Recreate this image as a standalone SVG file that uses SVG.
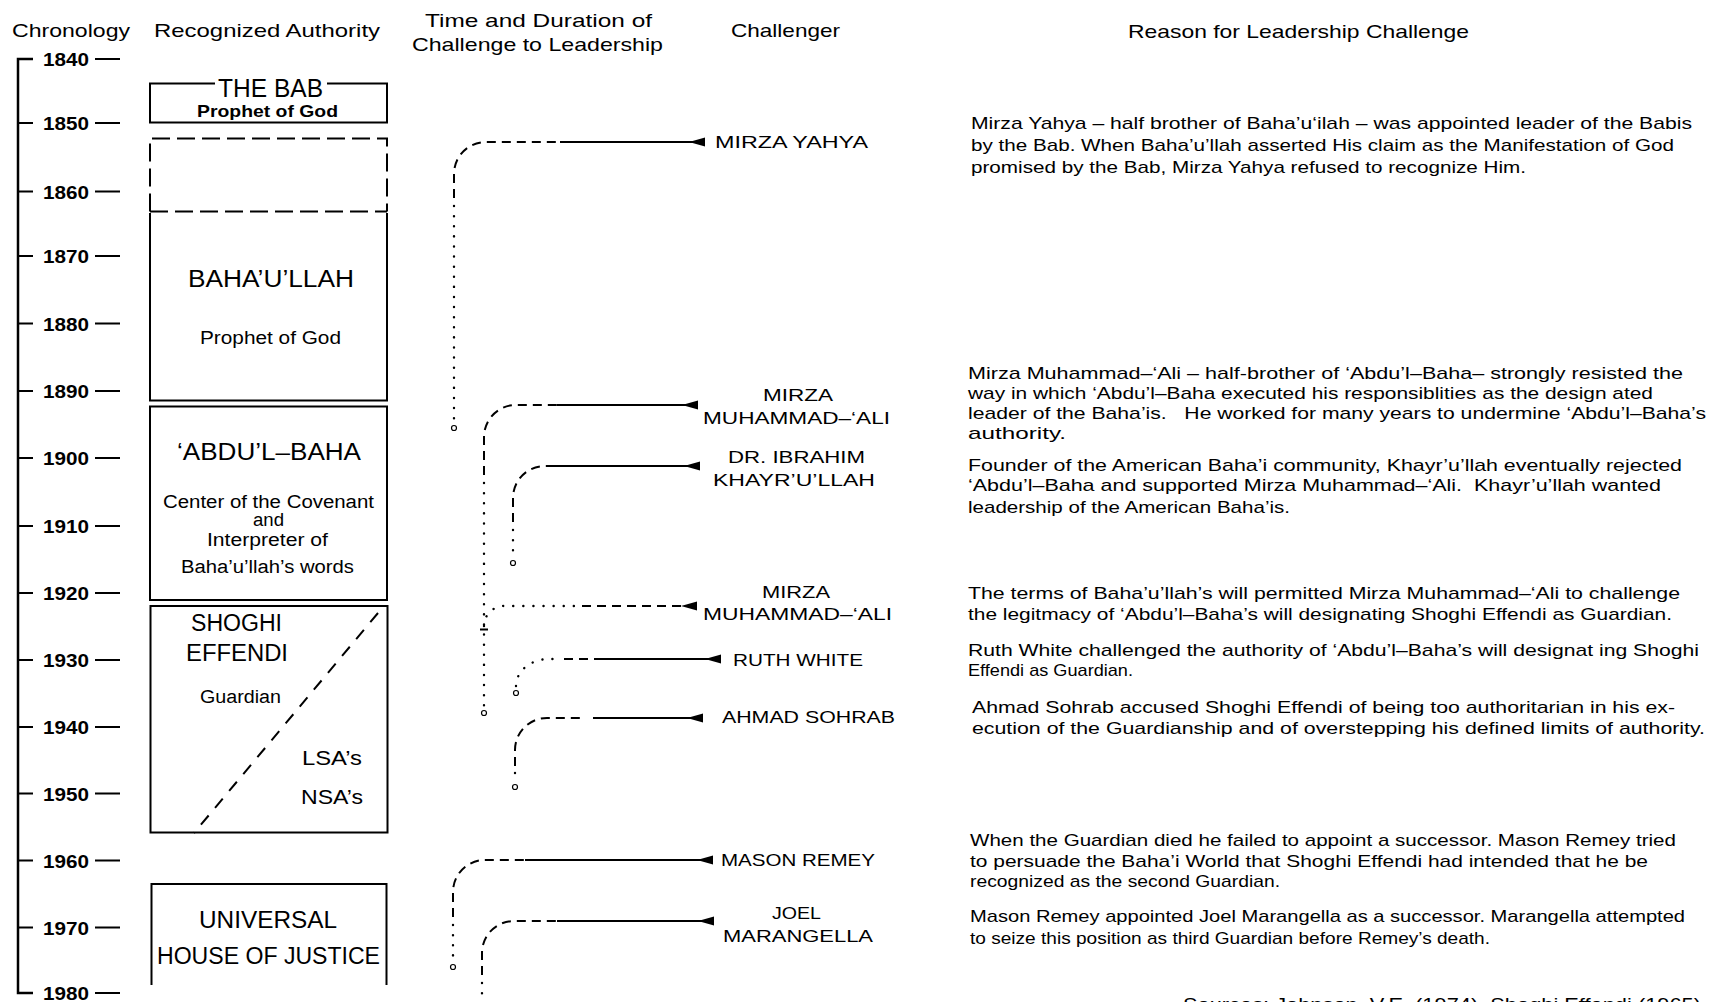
<svg xmlns="http://www.w3.org/2000/svg" width="1710" height="1002" viewBox="0 0 1710 1002">
<defs>
<style>
text { font-family: "Liberation Sans", Arial, Helvetica, sans-serif; fill: #000; }
.hd { font-size: 19px; }
.yr { font-size: 19px; font-weight: bold; }
.big { font-size: 23px; }
.mid { font-size: 18px; }
.lab { font-size: 17px; }
.par { font-size: 17px; }
.box { fill: none; stroke: #000; stroke-width: 2; }
.dbox { fill: none; stroke: #000; stroke-width: 2; stroke-dasharray: 18 7; }
.axis { fill: none; stroke: #000; stroke-width: 2.5; }
.tick { fill: none; stroke: #000; stroke-width: 2; }
.dash { fill: none; stroke: #000; stroke-width: 2; stroke-dasharray: 9 6; }
.dot { fill: none; stroke: #000; stroke-width: 2.4; stroke-dasharray: 0.1 10; stroke-linecap: round; }
.solid { fill: none; stroke: #000; stroke-width: 2.2; }
.end { fill: #fff; stroke: #000; stroke-width: 1.2; }
.diag { fill: none; stroke: #000; stroke-width: 2; stroke-dasharray: 12 10; }
</style>
<marker id="wedge" markerUnits="userSpaceOnUse" viewBox="0 0 16 10" markerWidth="16" markerHeight="10" refX="16" refY="5" orient="auto">
<path d="M0,5 L16,0.5 L16,9.5 Z" fill="#000"/>
</marker>
</defs>
<rect width="1710" height="1002" fill="#fff"/>

<g id="headers">
<text class="hd" x="12" y="36.5" textLength="118" lengthAdjust="spacingAndGlyphs">Chronology</text>
<text class="hd" x="154" y="36.5" textLength="226" lengthAdjust="spacingAndGlyphs">Recognized Authority</text>
<text class="hd" x="425" y="27" textLength="227" lengthAdjust="spacingAndGlyphs">Time and Duration of</text>
<text class="hd" x="412" y="51" textLength="251" lengthAdjust="spacingAndGlyphs">Challenge to Leadership</text>
<text class="hd" x="731" y="37" textLength="109" lengthAdjust="spacingAndGlyphs">Challenger</text>
<text class="hd" x="1128" y="38" textLength="341" lengthAdjust="spacingAndGlyphs">Reason for Leadership Challenge</text>
</g>

<g id="chronology">
<path class="axis" d="M33,59 H18 V993 H33"/>
<path class="tick" d="M18,123 H33 M18,191.5 H33 M18,256 H33 M18,323.5 H33 M18,391 H33 M18,458 H33 M18,526 H33 M18,593 H33 M18,660 H33 M18,727 H33 M18,793.5 H33 M18,860.5 H33 M18,927.5 H33"/>
<path class="tick" d="M95,59 H120 M95,123 H120 M95,191.5 H120 M95,256 H120 M95,323.5 H120 M95,391 H120 M95,458 H120 M95,526 H120 M95,593 H120 M95,660 H120 M95,727 H120 M95,793.5 H120 M95,860.5 H120 M95,927.5 H120 M95,993 H120"/>
<text class="yr" x="43" y="66" textLength="46" lengthAdjust="spacingAndGlyphs">1840</text>
<text class="yr" x="43" y="130" textLength="46" lengthAdjust="spacingAndGlyphs">1850</text>
<text class="yr" x="43" y="198.5" textLength="46" lengthAdjust="spacingAndGlyphs">1860</text>
<text class="yr" x="43" y="263" textLength="46" lengthAdjust="spacingAndGlyphs">1870</text>
<text class="yr" x="43" y="330.5" textLength="46" lengthAdjust="spacingAndGlyphs">1880</text>
<text class="yr" x="43" y="398" textLength="46" lengthAdjust="spacingAndGlyphs">1890</text>
<text class="yr" x="43" y="465" textLength="46" lengthAdjust="spacingAndGlyphs">1900</text>
<text class="yr" x="43" y="533" textLength="46" lengthAdjust="spacingAndGlyphs">1910</text>
<text class="yr" x="43" y="600" textLength="46" lengthAdjust="spacingAndGlyphs">1920</text>
<text class="yr" x="43" y="667" textLength="46" lengthAdjust="spacingAndGlyphs">1930</text>
<text class="yr" x="43" y="734" textLength="46" lengthAdjust="spacingAndGlyphs">1940</text>
<text class="yr" x="43" y="800.5" textLength="46" lengthAdjust="spacingAndGlyphs">1950</text>
<text class="yr" x="43" y="867.5" textLength="46" lengthAdjust="spacingAndGlyphs">1960</text>
<text class="yr" x="43" y="934.5" textLength="46" lengthAdjust="spacingAndGlyphs">1970</text>
<text class="yr" x="43" y="1000" textLength="46" lengthAdjust="spacingAndGlyphs">1980</text>
</g>

<g id="the-bab">
<path class="box" d="M215,83.5 H150 V122.5 H387 V83.5 H327"/>
<text x="218" y="96.5" font-size="26" textLength="105" lengthAdjust="spacingAndGlyphs">THE BAB</text>
<text x="197" y="117" font-size="17" font-weight="bold" textLength="141" lengthAdjust="spacingAndGlyphs">Prophet of God</text>
</g>

<g id="gap-period">
<path class="dbox" d="M150,211.5 V138.5 H387 V211.5"/>
<path class="dbox" d="M150,211.5 H387"/>
</g>

<g id="bahaullah">
<path class="box" d="M150,213 V400.5 H387 V213"/>
<text class="big" x="188" y="287" textLength="166" lengthAdjust="spacingAndGlyphs">BAHA’U’LLAH</text>
<text class="mid" x="200" y="343.5" textLength="141" lengthAdjust="spacingAndGlyphs">Prophet of God</text>
</g>

<g id="abdul-baha">
<rect class="box" x="150" y="406.5" width="237" height="193.5"/>
<text class="big" x="177" y="460" textLength="184" lengthAdjust="spacingAndGlyphs">‘ABDU’L–BAHA</text>
<text class="mid" x="163" y="507.5" textLength="211" lengthAdjust="spacingAndGlyphs">Center of the Covenant</text>
<text class="mid" x="253" y="526" textLength="31" lengthAdjust="spacingAndGlyphs">and</text>
<text class="mid" x="207" y="546" textLength="121" lengthAdjust="spacingAndGlyphs">Interpreter of</text>
<text class="mid" x="181" y="572.5" textLength="173" lengthAdjust="spacingAndGlyphs">Baha’u’llah’s words</text>
</g>

<g id="shoghi-effendi">
<rect class="box" x="150.5" y="606" width="237" height="226.5"/>
<path class="diag" d="M378,613 L194,833"/>
<text class="big" x="191" y="630.5" textLength="91" lengthAdjust="spacingAndGlyphs">SHOGHI</text>
<text class="big" x="186" y="660.5" textLength="102" lengthAdjust="spacingAndGlyphs">EFFENDI</text>
<text class="mid" x="200" y="703" textLength="81" lengthAdjust="spacingAndGlyphs">Guardian</text>
<text x="302" y="765" font-size="21" textLength="60" lengthAdjust="spacingAndGlyphs">LSA’s</text>
<text x="301" y="804" font-size="21" textLength="62" lengthAdjust="spacingAndGlyphs">NSA’s</text>
</g>

<g id="universal-house-of-justice">
<path class="box" d="M151.5,985 V884 H386.5 V985"/>
<text class="big" x="199" y="927.5" textLength="138" lengthAdjust="spacingAndGlyphs">UNIVERSAL</text>
<text class="big" x="157" y="964" textLength="223" lengthAdjust="spacingAndGlyphs">HOUSE OF JUSTICE</text>
</g>

<g id="connectors">
<path class="dash" d="M454,198 V174 A32,32 0 0 1 486,142 H560"/>
<path class="solid" d="M560,142 H705" marker-end="url(#wedge)"/>
<path class="dot" d="M454,206 V421"/>
<circle class="end" cx="454" cy="428" r="2.5"/>
<path class="dash" d="M484,475 V437 A32,32 0 0 1 516,405 H557"/>
<path class="solid" d="M557,405 H698" marker-end="url(#wedge)"/>
<path class="dot" d="M484,483 V706"/>
<circle class="end" cx="484" cy="713" r="2.5"/>
<path class="dash" d="M513,522 V498 A32,32 0 0 1 545,466 H553"/>
<path class="solid" d="M553,466 H700" marker-end="url(#wedge)"/>
<path class="dot" d="M513,530 V556"/>
<circle class="end" cx="513" cy="563" r="2.5"/>
<path class="dot" d="M484,626 A20,20 0 0 1 504,606 H578"/>
<path class="dash" d="M582,606 H697" marker-end="url(#wedge)"/>
<path class="tick" d="M480,629.5 H488"/>
<path class="dot" d="M516,686 A33,27 0 0 1 549,659 H560"/>
<path class="dash" d="M564,659 H598"/>
<path class="solid" d="M598,659 H721" marker-end="url(#wedge)"/>
<circle class="end" cx="516" cy="693" r="2.5"/>
<path class="dash" d="M515,766 V750 A32,32 0 0 1 547,718 H585"/>
<path class="solid" d="M593,718 H703" marker-end="url(#wedge)"/>
<path class="dot" d="M515,773 V781"/>
<circle class="end" cx="515" cy="787" r="2.5"/>
<path class="dash" d="M453,917 V892 A32,32 0 0 1 485,860 H525"/>
<path class="solid" d="M525,860 H713" marker-end="url(#wedge)"/>
<path class="dot" d="M453,925 V958"/>
<circle class="end" cx="453" cy="967" r="2.5"/>
<path class="dash" d="M482,975 V953 A32,32 0 0 1 514,921 H557"/>
<path class="solid" d="M557,921 H714" marker-end="url(#wedge)"/>
<path class="dot" d="M482,983 V1002"/>
</g>

<g id="challenger-mirza-yahya">
<text class="lab" x="715" y="148" textLength="153" lengthAdjust="spacingAndGlyphs">MIRZA YAHYA</text>
</g>
<g id="challenger-mirza-muhammad-ali-1">
<text class="lab" x="763" y="401" textLength="70" lengthAdjust="spacingAndGlyphs">MIRZA</text>
<text class="lab" x="703" y="424" textLength="187" lengthAdjust="spacingAndGlyphs">MUHAMMAD–‘ALI</text>
</g>
<g id="challenger-khayrullah">
<text class="lab" x="728" y="463" textLength="137" lengthAdjust="spacingAndGlyphs">DR. IBRAHIM</text>
<text class="lab" x="713" y="486" textLength="162" lengthAdjust="spacingAndGlyphs">KHAYR’U’LLAH</text>
</g>
<g id="challenger-mirza-muhammad-ali-2">
<text class="lab" x="762" y="598" textLength="68" lengthAdjust="spacingAndGlyphs">MIRZA</text>
<text class="lab" x="703" y="620" textLength="189" lengthAdjust="spacingAndGlyphs">MUHAMMAD–‘ALI</text>
</g>
<g id="challenger-ruth-white">
<text class="lab" x="733" y="666" textLength="130" lengthAdjust="spacingAndGlyphs">RUTH WHITE</text>
</g>
<g id="challenger-ahmad-sohrab">
<text class="lab" x="722" y="723" textLength="173" lengthAdjust="spacingAndGlyphs">AHMAD SOHRAB</text>
</g>
<g id="challenger-mason-remey">
<text class="lab" x="721" y="866" textLength="154" lengthAdjust="spacingAndGlyphs">MASON REMEY</text>
</g>
<g id="challenger-joel-marangella">
<text class="lab" x="772" y="919" textLength="49" lengthAdjust="spacingAndGlyphs">JOEL</text>
<text class="lab" x="723" y="942" textLength="150" lengthAdjust="spacingAndGlyphs">MARANGELLA</text>
</g>

<g id="reason-mirza-yahya">
<text class="par" x="971" y="129" textLength="721" lengthAdjust="spacingAndGlyphs">Mirza Yahya – half brother of Baha’u‘ilah – was appointed leader of the Babis</text>
<text class="par" x="971" y="151" textLength="703" lengthAdjust="spacingAndGlyphs">by the Bab. When Baha’u’llah asserted His claim as the Manifestation of God</text>
<text class="par" x="971" y="173" textLength="555" lengthAdjust="spacingAndGlyphs">promised by the Bab, Mirza Yahya refused to recognize Him.</text>
</g>
<g id="reason-mirza-muhammad-ali-1">
<text class="par" x="968" y="379" textLength="715" lengthAdjust="spacingAndGlyphs">Mirza Muhammad–‘Ali – half-brother of ‘Abdu’l–Baha– strongly resisted the</text>
<text class="par" x="968" y="399" textLength="685" lengthAdjust="spacingAndGlyphs">way in which ‘Abdu’l–Baha executed his responsiblities as the design ated</text>
<text class="par" x="968" y="419" textLength="738" lengthAdjust="spacingAndGlyphs">leader of the Baha’is.&#160;&#160;&#160;He worked for many years to undermine ‘Abdu’l–Baha’s</text>
<text class="par" x="968" y="439" textLength="98" lengthAdjust="spacingAndGlyphs">authority.</text>
</g>
<g id="reason-khayrullah">
<text class="par" x="968" y="470.5" textLength="714" lengthAdjust="spacingAndGlyphs">Founder of the American Baha’i community, Khayr’u’llah eventually rejected</text>
<text class="par" x="968" y="491" textLength="693" lengthAdjust="spacingAndGlyphs">‘Abdu’l–Baha and supported Mirza Muhammad–‘Ali.&#160;&#160;Khayr’u’llah wanted</text>
<text class="par" x="968" y="513" textLength="322" lengthAdjust="spacingAndGlyphs">leadership of the American Baha’is.</text>
</g>
<g id="reason-mirza-muhammad-ali-2">
<text class="par" x="968" y="599" textLength="712" lengthAdjust="spacingAndGlyphs">The terms of Baha’u’llah’s will permitted Mirza Muhammad–‘Ali to challenge</text>
<text class="par" x="968" y="620" textLength="704" lengthAdjust="spacingAndGlyphs">the legitmacy of ‘Abdu’l–Baha’s will designating Shoghi Effendi as Guardian.</text>
</g>
<g id="reason-ruth-white">
<text class="par" x="968" y="656" textLength="731" lengthAdjust="spacingAndGlyphs">Ruth White challenged the authority of ‘Abdu’l–Baha’s will designat ing Shoghi</text>
<text class="par" x="968" y="675.5" textLength="165" lengthAdjust="spacingAndGlyphs">Effendi as Guardian.</text>
</g>
<g id="reason-ahmad-sohrab">
<text class="par" x="972" y="712.5" textLength="703" lengthAdjust="spacingAndGlyphs">Ahmad Sohrab accused Shoghi Effendi of being too authoritarian in his ex-</text>
<text class="par" x="972" y="733.5" textLength="733" lengthAdjust="spacingAndGlyphs">ecution of the Guardianship and of overstepping his defined limits of authority.</text>
</g>
<g id="reason-mason-remey">
<text class="par" x="970" y="846" textLength="706" lengthAdjust="spacingAndGlyphs">When the Guardian died he failed to appoint a successor. Mason Remey tried</text>
<text class="par" x="970" y="866.5" textLength="678" lengthAdjust="spacingAndGlyphs">to persuade the Baha’i World that Shoghi Effendi had intended that he be</text>
<text class="par" x="970" y="887" textLength="310" lengthAdjust="spacingAndGlyphs">recognized as the second Guardian.</text>
</g>
<g id="reason-joel-marangella">
<text class="par" x="970" y="922" textLength="715" lengthAdjust="spacingAndGlyphs">Mason Remey appointed Joel Marangella as a successor. Marangella attempted</text>
<text class="par" x="970" y="944" textLength="520" lengthAdjust="spacingAndGlyphs">to seize this position as third Guardian before Remey’s death.</text>
</g>

<g id="sources">
<text x="1183" y="1011" font-size="18" textLength="518" lengthAdjust="spacingAndGlyphs">Sources: Johnson, V.E. (1974), Shoghi Effendi (1965)</text>
</g>
</svg>
